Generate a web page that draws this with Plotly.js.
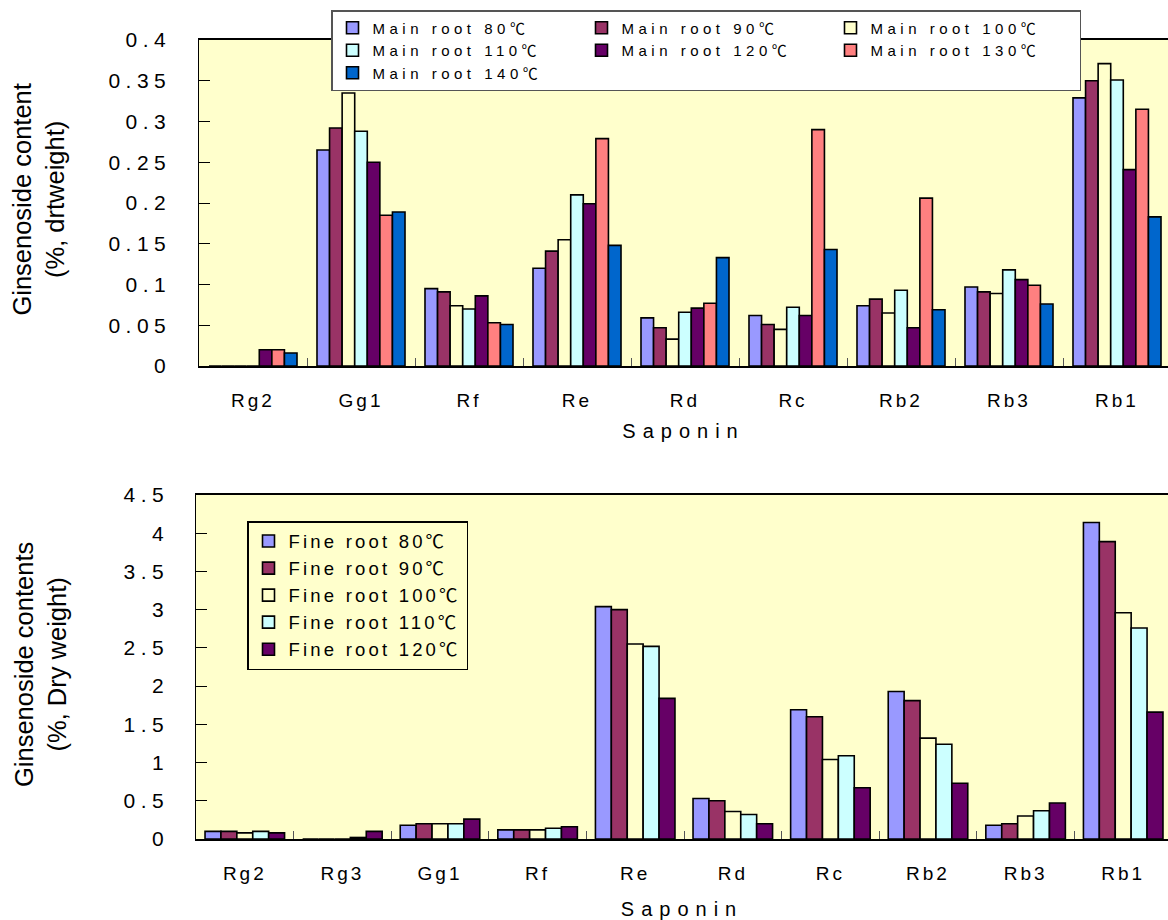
<!DOCTYPE html>
<html>
<head>
<meta charset="utf-8">
<script src="https://cdn.plot.ly/plotly-3.0.1.min.js"></script>
<style>
  html, body { margin: 0; padding: 0; background: #fff; }
  #chart { width: 1168px; height: 920px; }
  .xtick text, .x2tick text { letter-spacing: 3px; }
  .ytick text, .y2tick text { letter-spacing: 5.5px; }
  text.xtitle, text.x2title { letter-spacing: 7px; }
  .legend text { letter-spacing: 4.5px; }
  .legend2 text { letter-spacing: 3.2px; }
  #js-plotly-tester text { letter-spacing: 3.2px; }
</style>
</head>
<body>
<div id="chart"></div>
<script>
// ---- Top chart: main root ----
var mainCats = ['Rg2', 'Gg1', 'Rf', 'Re', 'Rd', 'Rc', 'Rb2', 'Rb3', 'Rb1'];
var main80  = [0,     0.265, 0.095, 0.120, 0.059, 0.062, 0.074, 0.097, 0.329];
var main90  = [0,     0.292, 0.091, 0.141, 0.047, 0.051, 0.082, 0.091, 0.350];
var main100 = [0,     0.335, 0.074, 0.155, 0.033, 0.045, 0.065, 0.089, 0.371];
var main110 = [0,     0.288, 0.070, 0.210, 0.066, 0.072, 0.093, 0.118, 0.351];
var main120 = [0.020, 0.250, 0.086, 0.199, 0.071, 0.062, 0.047, 0.106, 0.241];
var main130 = [0.020, 0.185, 0.053, 0.279, 0.077, 0.290, 0.206, 0.099, 0.315];
var main140 = [0.016, 0.189, 0.051, 0.148, 0.133, 0.143, 0.069, 0.076, 0.183];
var mainNames = ['Main root 80℃', 'Main root 90℃', 'Main root 100℃', 'Main root 110℃',
                 'Main root 120℃', 'Main root 130℃', 'Main root 140℃'];
var mainYTitle = 'Ginsenoside content<br>(%, drtweight)';

// ---- Bottom chart: fine root ----
var fineCats = ['Rg2', 'Rg3', 'Gg1', 'Rf', 'Re', 'Rd', 'Rc', 'Rb2', 'Rb3', 'Rb1'];
var fine80  = [0.10, 0,    0.18, 0.12, 3.04, 0.53, 1.69, 1.93, 0.18, 4.14];
var fine90  = [0.10, 0,    0.20, 0.12, 3.00, 0.50, 1.60, 1.81, 0.20, 3.89];
var fine100 = [0.08, 0,    0.20, 0.12, 2.55, 0.36, 1.04, 1.32, 0.30, 2.96];
var fine110 = [0.10, 0.02, 0.20, 0.14, 2.52, 0.32, 1.09, 1.24, 0.37, 2.76];
var fine120 = [0.08, 0.10, 0.26, 0.16, 1.84, 0.20, 0.67, 0.73, 0.47, 1.66];
var fineNames = ['Fine root 80℃', 'Fine root 90℃', 'Fine root 100℃', 'Fine root 110℃', 'Fine root 120℃'];
var fineYTitle = 'Ginsenoside contents<br>(%, Dry weight)';
var xTitle = 'Saponin';

var colors = ['#9999FF', '#993366', '#FFFFCC', '#CCFFFF', '#660066', '#FF8080', '#0066CC'];
var mainSeries = [main80, main90, main100, main110, main120, main130, main140];
var fineSeries = [fine80, fine90, fine100, fine110, fine120];

var traces = [];
mainSeries.forEach(function (vals, i) {
  traces.push({ type: 'bar', x: mainCats, y: vals, name: mainNames[i], xaxis: 'x', yaxis: 'y', legend: 'legend',
    marker: { color: colors[i], line: { color: '#000', width: 1.6 } } });
});
fineSeries.forEach(function (vals, i) {
  traces.push({ type: 'bar', x: fineCats, y: vals, name: fineNames[i], xaxis: 'x2', yaxis: 'y2', legend: 'legend2',
    marker: { color: colors[i], line: { color: '#000', width: 1.6 } } });
});

var FONT = 'Liberation Sans, Arial, Noto Sans CJK KR, sans-serif';
var W = 1168, H = 920, ML = 195;
var PW = W - ML;

var layout = {
  width: W, height: H,
  margin: { l: ML, r: 0, t: 0, b: 0, autoexpand: false },
  paper_bgcolor: '#ffffff', plot_bgcolor: '#FFFFCC',
  barmode: 'group', bargap: 0.185, bargroupgap: 0,
  font: { family: FONT, color: '#000' },
  showlegend: true,
  xaxis: { domain: [(199 - ML) / PW, 1], anchor: 'y', type: 'category', range: [-0.5, -0.5 + 969 / 108],
    showline: true, linecolor: '#000', linewidth: 2, mirror: true,
    ticks: 'inside', tickson: 'boundaries', ticklen: 8, tickcolor: '#555', tickwidth: 1,
    tickfont: { size: 19, family: FONT }, ticklabelstandoff: 16, showgrid: false, zeroline: false,
    title: { text: xTitle, font: { size: 20, family: FONT }, standoff: 14 } },
  yaxis: { domain: [1 - 366 / H, 1 - 40 / H], anchor: 'x', range: [0, 0.4], dtick: 0.05,
    showline: true, linecolor: '#000', linewidth: 1.5, mirror: true,
    ticks: 'inside', ticklen: 11, tickcolor: '#000', tickwidth: 1,
    tickfont: { size: 21, family: FONT }, ticklabelstandoff: 22, showgrid: false, zeroline: false },
  xaxis2: { domain: [(196 - ML) / PW, 1], anchor: 'y2', type: 'category', range: [-0.5, -0.5 + 972 / 97.6],
    showline: true, linecolor: '#000', linewidth: 2, mirror: true,
    ticks: 'inside', tickson: 'boundaries', ticklen: 8, tickcolor: '#555', tickwidth: 1,
    tickfont: { size: 19, family: FONT }, ticklabelstandoff: 16, showgrid: false, zeroline: false,
    title: { text: xTitle, font: { size: 20, family: FONT }, standoff: 20 } },
  yaxis2: { domain: [1 - 839 / H, 1 - 495 / H], anchor: 'x2', range: [0, 4.5], dtick: 0.5,
    showline: true, linecolor: '#000', linewidth: 1.5, mirror: true,
    ticks: 'inside', ticklen: 11, tickcolor: '#000', tickwidth: 1,
    tickfont: { size: 21, family: FONT }, ticklabelstandoff: 21, showgrid: false, zeroline: false },
  annotations: [
    { text: mainYTitle, xref: 'paper', yref: 'paper', x: (39 - ML) / PW, y: 1 - 200 / H,
      xanchor: 'center', yanchor: 'middle', textangle: -90, showarrow: false,
      font: { size: 25.5, family: FONT } },
    { text: fineYTitle, xref: 'paper', yref: 'paper', x: (40 - ML) / PW, y: 1 - 665 / H,
      xanchor: 'center', yanchor: 'middle', textangle: -90, showarrow: false,
      font: { size: 25.5, family: FONT } }
  ],
  legend: { xref: 'container', yref: 'container',
    x: 331 / W, y: 1 - 10 / H, xanchor: 'left', yanchor: 'top', orientation: 'h',
    entrywidth: 204, entrywidthmode: 'pixels',
    bgcolor: '#ffffff', bordercolor: '#555', borderwidth: 1.5,
    font: { size: 15, family: FONT }, traceorder: 'normal' },
  legend2: { xref: 'container', yref: 'container',
    x: 247 / W, y: 1 - 521 / H, xanchor: 'left', yanchor: 'top', orientation: 'v',
    bgcolor: '#FFFFCC', bordercolor: '#000', borderwidth: 1.5,
    font: { size: 18.5, family: FONT }, traceorder: 'normal' }
};

Plotly.newPlot('chart', traces, layout, { displayModeBar: false, staticPlot: true });
</script>
</body>
</html>
